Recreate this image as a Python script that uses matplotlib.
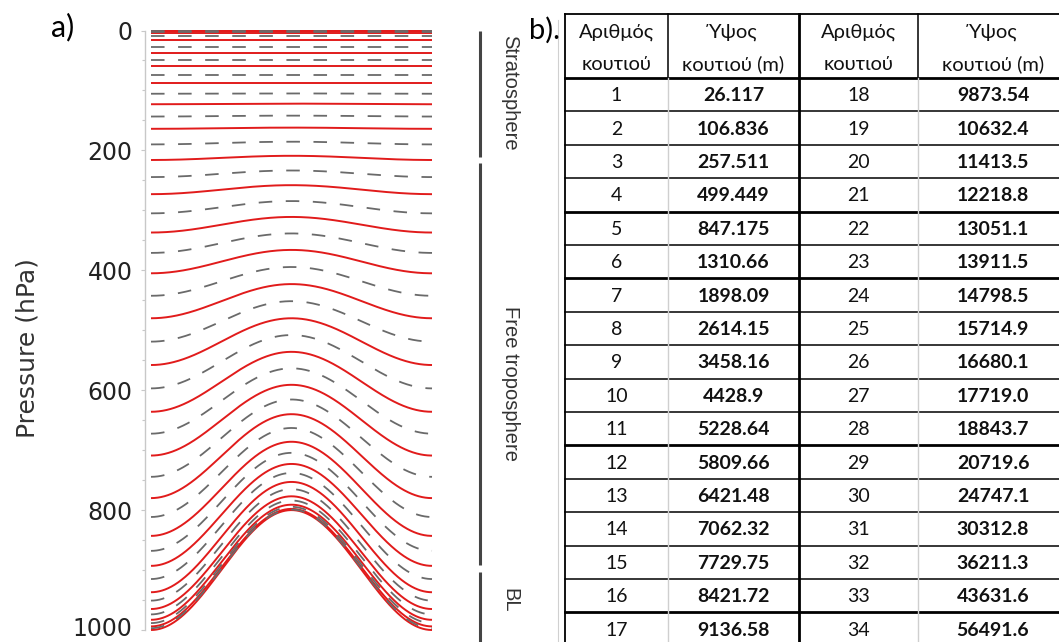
import numpy as np
import matplotlib.pyplot as plt
from matplotlib.transforms import blended_transform_factory, ScaledTranslation

# ---------------- data ----------------
# model level interfaces (hPa) at the edge of the domain and over the hill crest
level_edge = [0, 1.5, 4, 16, 38, 59, 88, 123, 164, 216, 273, 337, 405, 480, 558, 636,
              709, 780, 843, 893, 937, 965, 983, 994, 1000]
level_crest = [0, 1.5, 4, 16, 38, 59, 88, 122, 162, 209, 258, 311, 366, 423, 480, 536,
               591, 640, 686, 723, 753, 777, 791, 798, 800]
ps_edge = 1000   # surface pressure away from the hill
ps_crest = 800   # surface pressure on top of the hill

pressure_ticks = [0, 200, 400, 600, 800, 1000]

region_names = ["Stratosphere", "Free troposphere", "BL"]
region_top = [0, 221, 903]
region_bottom = [211, 891, 1020]
region_label_p = [104, 588, 950]

# table b)
header_1 = ["Αριθμός", "Ύψος", "Αριθμός", "Ύψος"]
header_2 = ["κουτιού", "κουτιού (m)", "κουτιού", "κουτιού (m)"]
box_num_1 = [str(i) for i in range(1, 18)]
box_height_1 = ["26.117", "106.836", "257.511", "499.449", "847.175", "1310.66", "1898.09",
                "2614.15", "3458.16", "4428.9", "5228.64", "5809.66", "6421.48", "7062.32",
                "7729.75", "8421.72", "9136.58"]
box_num_2 = [str(i) for i in range(18, 35)]
box_height_2 = ["9873.54", "10632.4", "11413.5", "12218.8", "13051.1", "13911.5", "14798.5",
                "15714.9", "16680.1", "17719.0", "18843.7", "20719.6", "24747.1", "30312.8",
                "36211.3", "43631.6", "56491.6"]
thick_after_row = [4, 6, 11, 16]

# ---------------- figure ----------------
W, H = 1059, 642
fig = plt.figure(figsize=(W / 100, H / 100), dpi=100)

# panel a) : axes placed in pixel units
left, right, top, bottom = 145, 438, 30.5, 630
ax = fig.add_axes([left / W, (H - bottom) / H, (right - left) / W, (bottom - top) / H])
d = 6 / 281
ax.set_xlim(-0.5 - d, 0.5 + d)
ax.set_ylim(1000, 0)

x = np.linspace(-0.5, 0.5, 500)
ps = (ps_edge + ps_crest) / 2 - (ps_edge - ps_crest) / 2 * np.cos(2 * np.pi * x)

edge = np.array(level_edge, dtype=float)
crest = np.array(level_crest, dtype=float)
B = (edge - crest) / (ps_edge - ps_crest)
A = edge - B * ps_edge
# half levels sit between the full levels
A_half = (A[:-1] + A[1:]) / 2
B_half = (B[:-1] + B[1:]) / 2

for a, b in zip(A, B):
    ax.plot(x, a + b * ps, color="#e11b1b", lw=1.4, clip_on=False, zorder=2,
            solid_capstyle="butt")
for a, b in zip(A_half, B_half):
    ax.plot(x, a + b * ps, color="#6a6a6a", lw=1.3, dashes=(7.5, 7.5), clip_on=False,
            zorder=3)

for s in ["top", "right", "bottom"]:
    ax.spines[s].set_visible(False)
ax.spines["left"].set_color("#c8c8c8")
ax.spines["left"].set_linewidth(1.0)
ax.set_xticks([])
ax.set_yticks(pressure_ticks)
ax.set_yticks(np.arange(0, 1001, 50), minor=True)
ax.tick_params(axis="y", which="major", length=3, width=0.8, color="#c8c8c8", pad=6,
               labelsize=17, labelcolor="#222222")
ax.tick_params(axis="y", which="minor", length=2, width=0.8, color="#c8c8c8")
for t in ax.get_yticklabels():
    t.set_family("DejaVu Sans")
# nudge the bottom label up a little so it stays inside the picture
last = ax.yaxis.get_major_ticks()[-1].label1
last.set_transform(last.get_transform() + ScaledTranslation(0, 3 / 100, fig.dpi_scale_trans))

fig.text(28 / W, 1 - 348 / H, "Pressure (hPa)", rotation=90, ha="center", va="center",
         fontsize=18, color="#333333", family="DejaVu Sans")

# atmospheric regions on the right of panel a)
trans = blended_transform_factory(ax.transAxes, ax.transData)
bar_x = (480 - left) / (right - left)
lab_x = (510 - left) / (right - left)
for name, p0, p1, pl in zip(region_names, region_top, region_bottom, region_label_p):
    ax.plot([bar_x, bar_x], [p0, p1], color="#444444", lw=2.2, transform=trans,
            clip_on=False, solid_capstyle="butt")
    ax.text(lab_x, pl, name, rotation=-90, ha="center", va="center", fontsize=14.5,
            color="#333333", family="Liberation Sans", transform=trans)

fig.text(51 / W, 1 - 27 / H, "a)", fontsize=22, va="center", ha="left",
         family=["Lato", "DejaVu Sans"])
fig.text(529 / W, 1 - 30 / H, "b).", fontsize=21, va="center", ha="left",
         family=["Lato", "DejaVu Sans"])

# ---------------- table b) ----------------
tab = fig.add_axes([0, 0, 1, 1])
tab.set_xlim(0, W)
tab.set_ylim(H, 0)
tab.axis("off")
tab.patch.set_alpha(0)

col_edges = [565, 668, 799, 918, 1068]
col_centers = [(col_edges[i] + col_edges[i + 1]) / 2 for i in range(4)]
table_top = 14
header_bottom = 78
row_h = 33.4
n_rows = len(box_num_1)

tab.plot([558, 558], [20, H], color="#d0d0d0", lw=0.8)

tab.plot([col_edges[0], W], [table_top, table_top], color="black", lw=1.3)
tab.plot([col_edges[0], W], [header_bottom, header_bottom], color="black", lw=2.0)
for k in range(1, n_rows + 1):
    y = header_bottom + row_h * k
    lw = 2.0 if k in thick_after_row else 1.1
    tab.plot([col_edges[0], W], [y, y], color="black", lw=lw)

table_bottom = header_bottom + row_h * n_rows + 5
tab.plot([col_edges[0]] * 2, [table_top, table_bottom], color="black", lw=1.3)
tab.plot([col_edges[2]] * 2, [table_top, table_bottom], color="black", lw=2.0)
for c in [col_edges[1], col_edges[3]]:
    tab.plot([c, c], [table_top, header_bottom], color="black", lw=1.1)
    tab.plot([c, c], [header_bottom, table_bottom], color="#cfcfcf", lw=1.0)

font = ["Lato", "Open Sans", "DejaVu Sans"]
for i in range(4):
    tab.text(col_centers[i], 32, header_1[i], ha="center", va="center", fontsize=14.5,
             family=font, color="#111111")
    tab.text(col_centers[i], 64, header_2[i], ha="center", va="center", fontsize=14.5,
             family=font, color="#111111")

columns = [box_num_1, box_height_1, box_num_2, box_height_2]
weights = ["normal", "bold", "normal", "bold"]
for i, col in enumerate(columns):
    for r, val in enumerate(col):
        y = header_bottom + row_h * (r + 0.5)
        tab.text(col_centers[i], y + 1, val, ha="center", va="center", fontsize=14,
                 family=font, weight=weights[i], color="#111111")

fig.savefig("out.png", dpi=100)
